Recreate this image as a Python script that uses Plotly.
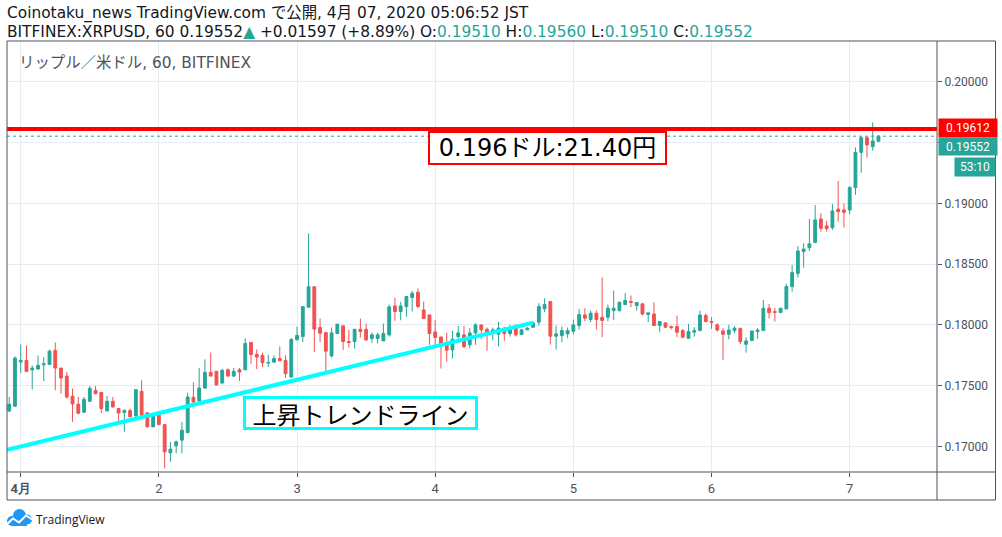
import pandas as pd
import plotly.graph_objects as go

# ---------------- data (XRPUSD, 1h candles, JST) ----------------
start_time = "2020-03-31 22:00"
n_candles = 152

opens = [
    0.17292, 0.17331, 0.17694, 0.17708, 0.17631, 0.17637, 0.17672, 0.17675, 0.17790, 0.17645,
    0.17579, 0.17413, 0.17347, 0.17282, 0.17372, 0.17462, 0.17445, 0.17292, 0.17372, 0.17312,
    0.17279, 0.17295, 0.17251, 0.17454, 0.17276, 0.17161, 0.17257, 0.17180, 0.16948, 0.17006,
    0.17052, 0.17115, 0.17404, 0.17374, 0.17481, 0.17609, 0.17618, 0.17522, 0.17631, 0.17579,
    0.17631, 0.17631, 0.17855, 0.17757, 0.17749, 0.17686, 0.17694, 0.17724, 0.17708, 0.17571,
    0.17877, 0.17904, 0.18145, 0.18314, 0.17978, 0.17937, 0.17745, 0.17929, 0.17992, 0.17863,
    0.17863, 0.17964, 0.17964, 0.17888, 0.17888, 0.17868, 0.17918, 0.18156, 0.18110, 0.18151,
    0.18225, 0.18269, 0.18123, 0.18082, 0.17942, 0.17901, 0.17855, 0.17794, 0.17904, 0.17918,
    0.17836, 0.17934, 0.18000, 0.17964, 0.17929, 0.17923, 0.17973, 0.17929, 0.17978, 0.17921,
    0.17959, 0.17981, 0.18022, 0.18132, 0.18192, 0.17907, 0.17912, 0.17926, 0.17948, 0.17995,
    0.18082, 0.18044, 0.18096, 0.18063, 0.18063, 0.18118, 0.18118, 0.18167, 0.18192, 0.18159,
    0.18173, 0.18085, 0.18090, 0.17995, 0.18016, 0.17986, 0.17986, 0.17953, 0.17890, 0.17940,
    0.17953, 0.18077, 0.18027, 0.18000, 0.17950, 0.17923, 0.17953, 0.17972, 0.17841, 0.17871,
    0.17945, 0.17953, 0.18137, 0.18109, 0.18101, 0.18131, 0.18315, 0.18424, 0.18603, 0.18635,
    0.18677, 0.18871, 0.18814, 0.18800, 0.18953, 0.18945, 0.18945, 0.19129, 0.19419, 0.19540,
    0.19466, 0.19510,
]
highs = [
    0.17407, 0.17741, 0.17839, 0.17831, 0.17667, 0.17749, 0.17735, 0.17798, 0.17855, 0.17645,
    0.17612, 0.17476, 0.17407, 0.17407, 0.17497, 0.17497, 0.17448, 0.17415, 0.17407, 0.17317,
    0.17306, 0.17312, 0.17470, 0.17544, 0.17284, 0.17262, 0.17257, 0.17180, 0.17038, 0.17047,
    0.17202, 0.17443, 0.17527, 0.17645, 0.17716, 0.17773, 0.17620, 0.17639, 0.17642, 0.17645,
    0.17645, 0.17888, 0.17858, 0.17798, 0.17771, 0.17754, 0.17749, 0.17822, 0.17749, 0.17893,
    0.17986, 0.18150, 0.18754, 0.18314, 0.18052, 0.17937, 0.17978, 0.18011, 0.17992, 0.17959,
    0.17964, 0.18052, 0.18011, 0.17937, 0.17937, 0.18011, 0.18167, 0.18222, 0.18189, 0.18238,
    0.18280, 0.18299, 0.18192, 0.18082, 0.18041, 0.17901, 0.17937, 0.17951, 0.17992, 0.17992,
    0.17973, 0.18014, 0.18000, 0.17978, 0.17978, 0.18025, 0.17984, 0.18000, 0.18005, 0.17967,
    0.17981, 0.18027, 0.18178, 0.18219, 0.18192, 0.17995, 0.17986, 0.17978, 0.18044, 0.18132,
    0.18137, 0.18118, 0.18118, 0.18389, 0.18167, 0.18282, 0.18192, 0.18263, 0.18241, 0.18186,
    0.18178, 0.18099, 0.18186, 0.18027, 0.18022, 0.17995, 0.18077, 0.17967, 0.18008, 0.17981,
    0.18118, 0.18096, 0.18063, 0.18013, 0.17972, 0.18000, 0.17991, 0.17972, 0.17898, 0.17950,
    0.17972, 0.18205, 0.18172, 0.18139, 0.18137, 0.18337, 0.18493, 0.18649, 0.18671, 0.18871,
    0.18986, 0.18918, 0.18855, 0.18995, 0.19184, 0.19000, 0.19132, 0.19460, 0.19548, 0.19548,
    0.19666, 0.19560,
]
lows = [
    0.17284, 0.17325, 0.17604, 0.17612, 0.17470, 0.17631, 0.17538, 0.17675, 0.17462, 0.17434,
    0.17394, 0.17202, 0.17265, 0.17276, 0.17366, 0.17429, 0.17276, 0.17290, 0.17320, 0.17210,
    0.17120, 0.17243, 0.17243, 0.17224, 0.17161, 0.17161, 0.17180, 0.16820, 0.16874, 0.16943,
    0.16943, 0.17107, 0.17353, 0.17366, 0.17473, 0.17577, 0.17503, 0.17516, 0.17571, 0.17571,
    0.17538, 0.17626, 0.17680, 0.17637, 0.17653, 0.17653, 0.17686, 0.17702, 0.17566, 0.17566,
    0.17872, 0.17858, 0.18145, 0.17776, 0.17858, 0.17612, 0.17731, 0.17923, 0.17794, 0.17814,
    0.17805, 0.17896, 0.17868, 0.17852, 0.17847, 0.17868, 0.17904, 0.18033, 0.18038, 0.18066,
    0.18110, 0.18137, 0.18052, 0.17836, 0.17827, 0.17641, 0.17698, 0.17723, 0.17860, 0.17808,
    0.17808, 0.17836, 0.17882, 0.17786, 0.17874, 0.17822, 0.17868, 0.17904, 0.17904, 0.17921,
    0.17959, 0.17975, 0.17995, 0.18104, 0.17838, 0.17797, 0.17857, 0.17890, 0.17921, 0.17962,
    0.18030, 0.18022, 0.17962, 0.17899, 0.18030, 0.18041, 0.18110, 0.18164, 0.18145, 0.18118,
    0.18077, 0.18022, 0.17995, 0.17940, 0.17973, 0.17962, 0.17899, 0.17890, 0.17890, 0.17904,
    0.17948, 0.18022, 0.17967, 0.17945, 0.17712, 0.17882, 0.17931, 0.17841, 0.17772, 0.17871,
    0.17885, 0.17953, 0.18052, 0.18027, 0.18101, 0.18131, 0.18274, 0.18389, 0.18471, 0.18608,
    0.18677, 0.18767, 0.18767, 0.18781, 0.18849, 0.18800, 0.18912, 0.19069, 0.19252, 0.19376,
    0.19433, 0.19510,
]
closes = [
    0.17347, 0.17727, 0.17708, 0.17618, 0.17645, 0.17667, 0.17680, 0.17784, 0.17645, 0.17563,
    0.17407, 0.17350, 0.17273, 0.17388, 0.17478, 0.17434, 0.17312, 0.17372, 0.17325, 0.17276,
    0.17295, 0.17243, 0.17467, 0.17257, 0.17161, 0.17257, 0.17180, 0.16956, 0.16978, 0.17038,
    0.17134, 0.17407, 0.17366, 0.17481, 0.17609, 0.17579, 0.17506, 0.17626, 0.17579, 0.17618,
    0.17612, 0.17847, 0.17757, 0.17735, 0.17689, 0.17691, 0.17724, 0.17705, 0.17598, 0.17880,
    0.17913, 0.18150, 0.18314, 0.17965, 0.17932, 0.17784, 0.17934, 0.18005, 0.17863, 0.17855,
    0.17964, 0.17945, 0.17877, 0.17918, 0.17918, 0.17929, 0.18148, 0.18110, 0.18156, 0.18233,
    0.18260, 0.18151, 0.18052, 0.17929, 0.17896, 0.17841, 0.17792, 0.17882, 0.17934, 0.17822,
    0.17934, 0.18000, 0.17959, 0.17923, 0.17959, 0.17973, 0.17929, 0.17964, 0.17918, 0.17959,
    0.17973, 0.18016, 0.18151, 0.18167, 0.17907, 0.17926, 0.17953, 0.17953, 0.18000, 0.18085,
    0.18055, 0.18096, 0.18044, 0.18036, 0.18137, 0.18137, 0.18186, 0.18200, 0.18186, 0.18184,
    0.18090, 0.18099, 0.17995, 0.18027, 0.17981, 0.17978, 0.17940, 0.17899, 0.17945, 0.17953,
    0.18082, 0.18027, 0.18022, 0.17958, 0.17923, 0.17958, 0.17972, 0.17863, 0.17868, 0.17950,
    0.17958, 0.18137, 0.18101, 0.18104, 0.18137, 0.18315, 0.18430, 0.18608, 0.18624, 0.18666,
    0.18863, 0.18794, 0.18792, 0.18937, 0.18931, 0.18926, 0.19132, 0.19419, 0.19540, 0.19480,
    0.19513, 0.19552,
]

tick_dates = ["2020-04-01", "2020-04-02", "2020-04-03", "2020-04-04",
              "2020-04-05", "2020-04-06", "2020-04-07"]
tick_labels = ["<b>4月</b>", "2", "3", "4", "5", "6", "7"]
price_ticks = [0.170, 0.175, 0.180, 0.185, 0.190, 0.195, 0.200]
price_tick_labels = ["0.17000", "0.17500", "0.18000", "0.18500", "0.19000", "", "0.20000"]

trend_x = ["2020-03-31 21:37", "2020-04-04 17:00"]
trend_y = [0.16972, 0.18018]
resistance_price = 0.19612
last_price = 0.19552
countdown = "53:10"

header1 = "Coinotaku_news TradingView.com で公開, 4月 07, 2020 05:06:52 JST"
symbol_line = "BITFINEX:XRPUSD, 60"
change_text = "+0.01597 (+8.89%)"
ohlc_last = {"O": "0.19510", "H": "0.19560", "L": "0.19510", "C": "0.19552"}
watermark = "リップル／米ドル, 60, BITFINEX"
note_price = "0.196ドル:21.40円"
note_trend = "上昇トレンドライン"

times = pd.date_range(start_time, periods=n_candles, freq="h")

# ---------------- style ----------------
UP = "#26a69a"
DOWN = "#ef5350"
AXC = "#4c525e"
GRID = "#e5ecf2"
FONT = "DejaVu Sans, Noto Sans CJK JP"
CJK = "Noto Sans CJK JP"

W, H = 1002, 537
L, R, T, B = 7, 937, 41, 472


def px(x):
    return (x - L) / (R - L)


def py(y):
    return (B - y) / (B - T)


fig = go.Figure()
fig.add_trace(go.Candlestick(
    x=times, open=opens, high=highs, low=lows, close=closes,
    increasing=dict(line=dict(color=UP, width=1), fillcolor=UP),
    decreasing=dict(line=dict(color=DOWN, width=1), fillcolor=DOWN),
    whiskerwidth=0, hoverinfo="skip", showlegend=False,
))
fig.add_trace(go.Scatter(
    x=trend_x, y=trend_y, mode="lines",
    line=dict(color="#00ffff", width=4), hoverinfo="skip", showlegend=False,
))

shapes = [
    dict(type="line", xref="paper", yref="y", x0=0, x1=1, y0=last_price, y1=last_price,
         line=dict(color=UP, width=1, dash="dot"), layer="above"),
    dict(type="line", xref="paper", yref="y", x0=0, x1=1, y0=resistance_price, y1=resistance_price,
         line=dict(color="#ff0000", width=4), layer="above"),
    # outer frame and axis separators
    dict(type="rect", xref="paper", yref="paper", x0=px(7), x1=px(995.5), y0=py(500), y1=py(41),
         line=dict(color=AXC, width=1), fillcolor="rgba(0,0,0,0)", layer="above"),
    dict(type="line", xref="paper", yref="paper", x0=px(7), x1=px(995.5), y0=py(472), y1=py(472),
         line=dict(color=AXC, width=1), layer="above"),
    dict(type="line", xref="paper", yref="paper", x0=px(937), x1=px(937), y0=py(500), y1=py(41),
         line=dict(color=AXC, width=1), layer="above"),
]

# TradingView logo (cloud)
LOGO = "#2196f3"
for (x0, y0, x1, y1) in [(7, 516, 17, 526), (13, 509, 26, 522), (22, 514.5, 32, 524.5)]:
    shapes.append(dict(type="circle", xref="paper", yref="paper",
                       x0=px(x0), x1=px(x1), y0=py(y1), y1=py(y0),
                       fillcolor=LOGO, line=dict(width=0), layer="above"))
shapes.append(dict(type="rect", xref="paper", yref="paper", x0=px(12), x1=px(27),
                   y0=py(526), y1=py(519), fillcolor=LOGO, line=dict(width=0), layer="above"))
path = "M {} {} L {} {} L {} {} L {} {} L {} {}".format(
    px(6), py(525), px(13), py(518.5), px(19), py(522.5), px(26), py(515.5), px(33), py(520))
shapes.append(dict(type="path", xref="paper", yref="paper", path=path,
                   line=dict(color="white", width=2), layer="above"))

teal = lambda s: f"<span style='color:{UP}'>{s}</span>"
line2 = (f"{symbol_line} {last_price:.5f}{teal('▲')} {change_text} "
         f"O:{teal(ohlc_last['O'])} H:{teal(ohlc_last['H'])} "
         f"L:{teal(ohlc_last['L'])} C:{teal(ohlc_last['C'])}")

annotations = [
    dict(xref="paper", yref="paper", x=px(5), y=py(13), xanchor="left", yanchor="middle",
         text=header1, showarrow=False, font=dict(family=FONT, size=15.4, color="#131722")),
    dict(xref="paper", yref="paper", x=px(5), y=py(32), xanchor="left", yanchor="middle",
         text=line2, showarrow=False, font=dict(family=FONT, size=15.4, color="#131722")),
    dict(xref="paper", yref="paper", x=px(17), y=py(63), xanchor="left", yanchor="middle",
         text=watermark, showarrow=False, font=dict(family=FONT, size=15.4, color="#50535e")),
    dict(xref="paper", yref="paper", x=px(547.8), y=py(148), xanchor="center", yanchor="middle",
         text=note_price, showarrow=False, font=dict(family=FONT, size=24, color="black"),
         bgcolor="white", bordercolor="#ff0000", borderwidth=2, borderpad=0,
         width=235, height=30),
    dict(xref="paper", yref="paper", x=px(360.8), y=py(412.8), xanchor="center", yanchor="middle",
         text=note_trend, showarrow=False, font=dict(family=CJK, size=24, color="black"),
         bgcolor="white", bordercolor="#00ffff", borderwidth=3, borderpad=0,
         width=229, height=28),
    dict(xref="paper", yref="paper", x=px(937.5), y=py(128), xanchor="left", yanchor="middle",
         text=f"{resistance_price:.5f}", showarrow=False,
         font=dict(family="Roboto", size=12, color="white"),
         bgcolor="#ff0000", borderpad=0, width=58, height=18, align="center"),
    dict(xref="paper", yref="paper", x=px(937.5), y=py(146.5), xanchor="left", yanchor="middle",
         text=f"{last_price:.5f}", showarrow=False,
         font=dict(family="Roboto", size=12, color="white"),
         bgcolor=UP, borderpad=0, width=58, height=17, align="center"),
    dict(xref="paper", yref="paper", x=px(954), y=py(166.5), xanchor="left", yanchor="middle",
         text=countdown, showarrow=False,
         font=dict(family="Roboto", size=12, color="white"),
         bgcolor=UP, borderpad=0, width=40, height=18, align="center"),
    dict(xref="paper", yref="paper", x=px(34), y=py(519), xanchor="left", yanchor="middle",
         text="TradingView", showarrow=False,
         font=dict(family="Open Sans", size=12, color="#131722")),
]

fig.update_layout(
    width=W, height=H,
    margin=dict(l=L, r=W - R, t=T, b=H - B),
    paper_bgcolor="white", plot_bgcolor="white",
    showlegend=False,
    shapes=shapes, annotations=annotations,
    xaxis=dict(
        type="date", range=["2020-03-31 21:37", "2020-04-07 15:10"],
        tickvals=tick_dates, ticktext=tick_labels,
        ticks="outside", ticklen=4, tickcolor=AXC,
        showgrid=True, gridcolor=GRID, gridwidth=1,
        showline=False, zeroline=False,
        tickfont=dict(family="Roboto", size=13, color=AXC),
        rangeslider=dict(visible=False), fixedrange=True, automargin=False,
    ),
    yaxis=dict(
        side="right", range=[0.16790, 0.20335],
        tickvals=price_ticks, ticktext=price_tick_labels,
        ticks="outside", ticklen=4, tickcolor=AXC,
        showgrid=True, gridcolor=GRID, gridwidth=1,
        showline=False, zeroline=False,
        tickfont=dict(family="Roboto", size=12, color=AXC),
        fixedrange=True, automargin=False,
    ),
)

fig.write_html(
    "out.html",
    config={"displayModeBar": False},
    post_script="document.body.style.margin='0';document.body.style.overflow='hidden';",
)
